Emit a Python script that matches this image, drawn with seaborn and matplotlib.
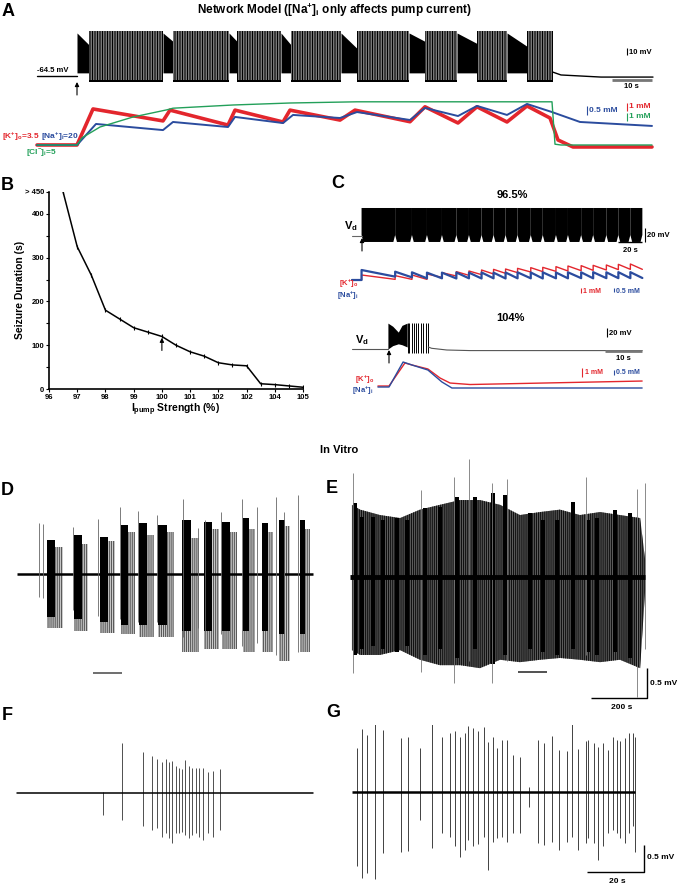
import numpy as np
import matplotlib
matplotlib.use('Agg')
import matplotlib.pyplot as plt
import seaborn as sns

# ---------------- values ----------------
# A: network model, membrane potential (s, mV)
a_tonic_start = [10, 31.5, 48, 61, 76, 93, 105, 117.5]
a_clonic_start = [13, 34, 50, 63.5, 80, 97, 110, 122.5]
a_clonic_end = [31.5, 48, 61, 76, 93, 105, 117.5, 129]
a_tonic_top_end = [-20, -15, -15, -20, -25, -15, -18, -22]
a_tonic_top_start = -3
a_tonic_floor = -60
a_spike_peak = 0
a_spike_trough = -73
a_pre_t = [0, 10]
a_pre_v = [-64.5, -64.5]
a_post_t = [129, 131, 141, 154]
a_post_v = [-59, -63, -66, -66]

# A: ion concentrations (s, mM)
a_k_t = [0, 10, 14, 31.5, 33.25, 47.75, 49.5, 61.5, 63.25, 75.75, 79.5, 93.25, 97,
         105.25, 110, 117.5, 122.5, 128.25, 130.25, 134, 153.75]
a_k = [3.5, 3.5, 7.84, 6.4, 7.7, 5.9, 7.7, 6.27, 7.7, 6.5, 7.7, 6.3, 8.1,
       6.15, 8.1, 6.27, 8.2, 6.75, 4.1, 3.26, 3.26]
a_na_t = [0, 10, 14.75, 31.5, 34, 47.75, 49.5, 61.5, 64, 75.75, 80, 93.25, 97,
          105.25, 110, 117.5, 122.5, 128.75, 135.75, 153.75]
a_na = [20, 20, 21.17, 20.83, 21.28, 21.0, 21.56, 21.22, 21.67, 21.5, 21.83, 21.39, 22.06,
        21.61, 22.17, 21.67, 22.28, 21.83, 21.28, 21.06]
a_cl_t = [0, 10, 11.25, 15.75, 24, 32.5, 34, 49, 63.25, 80, 128.75, 129.5, 131, 153.75]
a_cl = [5, 5, 5.9, 7.25, 8.5, 9.4, 9.6, 10, 10.25, 10.4, 10.4, 5.1, 5, 5]

# B: seizure duration vs pump strength
b_pump = [96.5, 97, 97.5, 98, 98.5, 99, 99.5, 100, 100.5, 101, 101.5, 102, 102.5,
          103, 103.5, 104, 104.5, 105]
b_duration = [450, 325, 260, 180, 160, 140, 130, 120, 100, 85, 75, 60, 55, 53, 12, 10, 7, 4]
b_xticks = [96, 97, 98, 99, 100, 101, 102, 103, 104, 105]
b_xticklabels = ['96', '97', '98', '99', '100', '101', '102', '102', '104', '105']
b_yticks = [0, 100, 200, 300, 400, 450]
b_yticklabels = ['0', '100', '200', '300', '400', '> 450']

# C (96.5%): cycle boundaries (s), block envelope (mV), sawtooth peaks/troughs (mM)
c1_cycles = [8, 36, 50, 62.5, 75, 87, 97.5, 108, 118, 128, 138, 149, 159, 170, 180,
             191, 201, 212, 222, 232, 242]
c1_block_top = -24.5
c1_block_bottom = -73
c1_notch_v = -63
c1_k_peak = [4.5, 4.37, 4.5, 4.7, 4.97, 5.17, 5.3, 5.5, 5.63, 5.7, 5.83, 5.97, 6.03,
             6.17, 6.3, 6.37, 6.43, 6.5, 6.63, 6.7]
c1_k_trough = [3.63, 3.63, 3.63, 4.03, 4.3, 4.43, 4.57, 4.7, 4.83, 4.97, 5.1, 5.17, 5.23,
               5.3, 5.37, 5.43, 5.5, 5.57, 5.63, 5.63]
c1_na_peak = [21.25, 21.04, 20.96, 20.92, 20.92, 20.94, 20.92, 20.94, 20.92, 20.94, 20.96,
              20.94, 20.96, 20.94, 20.96, 20.96, 20.98, 20.96, 20.98, 20.98]
c1_na_trough = [20.42, 20.33, 20.21, 20.21, 20.19, 20.21, 20.19, 20.21, 20.19, 20.21, 20.21,
                20.19, 20.21, 20.21, 20.23, 20.21, 20.23, 20.23, 20.23, 20.25]

# C (104%)
c2_tonic_t = [9.7, 11, 12.5, 13.5, 14.9]
c2_tonic_top = [-7, -14, -27, -12, -7]
c2_tonic_bottom = [-64.5, -57, -53, -55, -60]
c2_spike_t = [15, 15.5, 16.1, 16.8, 17.3, 17.9, 18.6, 19.3, 20, 20.6]
c2_spike_peak = -7
c2_spike_trough = -73
c2_pre_t = [0, 9.7]
c2_pre_v = [-64.5, -64.5]
c2_post_t = [20.6, 21.5, 25.6, 31.9, 78.4]
c2_post_v = [-60, -62.9, -66.7, -68, -68]
c2_k_t = [7, 10, 14.3, 16.2, 20.5, 23.8, 26.5, 31.9, 78.4]
c2_k = [3.5, 3.5, 6.27, 6.03, 5.55, 4.46, 3.86, 3.68, 4.1]
c2_na_t = [7, 10, 13.8, 16.2, 20.5, 24.3, 27, 78.4]
c2_na = [20, 20, 22.5, 22.2, 21.7, 20.5, 19.9, 19.9]

# D: in vitro bursts (s, mV)
d_end = 1057
d_core_start = [107, 204, 296, 371, 436, 504, 589, 668, 732, 807, 875, 936, 1011]
d_core_end = [136, 232, 325, 396, 464, 536, 621, 696, 761, 829, 896, 957, 1029]
d_core_top = [0.57, 0.65, 0.62, 0.82, 0.85, 0.82, 0.9, 0.87, 0.87, 0.93, 0.85, 0.9, 0.9]
d_core_bottom = [-0.72, -0.75, -0.8, -0.85, -0.85, -0.85, -0.95, -0.95, -0.95, -0.95, -0.95, -1.0, -1.0]
d_tail_end = [165, 255, 350, 420, 490, 560, 650, 720, 785, 850, 915, 975, 1045]
d_tail_top = [0.45, 0.5, 0.55, 0.7, 0.65, 0.7, 0.6, 0.75, 0.7, 0.75, 0.7, 0.8, 0.75]
d_tail_bottom = [-0.9, -0.95, -0.98, -1.0, -1.05, -1.05, -1.3, -1.25, -1.25, -1.3, -1.3, -1.45, -1.3]
d_spike_t = [79, 93, 200, 289, 368, 432, 500, 593, 646, 671, 729, 804, 857, 925, 954, 1004]
d_spike_top = [0.85, 0.83, 0.78, 0.92, 1.12, 1.05, 0.98, 1.25, 0.77, 0.9, 1.03, 1.25, 1.12, 1.28, 1.03, 1.32]
d_spike_bottom = [-0.38, -0.4, -0.6, -0.7, -0.75, -0.8, -0.8, -1.05, -0.9, -0.95, -1.0, -1.2, -1.15,
                  -1.35, -1.2, -1.3]

# E: in vitro, dense activity (s, mV)
e_end = 1054
e_env_t = [7, 36, 107, 179, 250, 321, 393, 464, 536, 607, 679, 750, 821, 893, 964, 1036, 1054]
e_env_top = [1.2, 1.12, 1.03, 0.98, 1.12, 1.2, 1.28, 1.28, 1.2, 1.03, 1.08, 1.12, 1.03, 1.08, 1.03, 0.98, 0.28]
e_env_bottom = [-1.22, -1.3, -1.3, -1.22, -1.38, -1.47, -1.47, -1.52, -1.38, -1.42, -1.38, -1.35,
                -1.38, -1.42, -1.38, -1.52, -0.22]
e_col_t = [18, 43, 82, 118, 168, 204, 268, 321, 382, 446, 511, 554, 643, 689, 739, 796, 850, 882, 946, 1000]
e_col_top = [1.23, 1.0, 1.0, 0.95, 0.98, 0.95, 1.15, 1.17, 1.33, 1.33, 1.4, 1.37, 1.07, 0.95, 0.95,
             1.25, 0.95, 0.98, 1.12, 1.07]
e_col_bottom = [-1.3, -1.2, -1.15, -1.2, -1.25, -1.15, -1.3, -1.2, -1.35, -1.2, -1.45, -1.3, -1.2,
                -1.25, -1.3, -1.2, -1.25, -1.3, -1.25, -1.35]
e_spike_t = [11, 254, 371, 425, 507, 561, 843, 1025, 1054]
e_spike_top = [1.73, 1.45, 1.67, 1.97, 1.57, 1.63, 1.67, 1.47, 1.57]
e_spike_bottom = [-1.6, -1.58, -1.77, -1.4, -1.77, -1.4, -1.3, -2.0, -1.2]

# F: in vitro single event (s, mV)
f_end = 104
f_spike_t = [30.3, 36.7, 44.3, 47.3, 49.2, 51, 52.3, 53.4, 54.5, 55.7, 56.7, 57.8, 58.9, 60.2,
             61.5, 62.7, 64, 65.2, 67.1, 68.9, 71.2]
f_spike_top = [0.02, 0.92, 0.76, 0.69, 0.62, 0.58, 0.62, 0.57, 0.6, 0.5, 0.46, 0.44, 0.61, 0.5,
               0.47, 0.47, 0.46, 0.46, 0.39, 0.41, 0.44]
f_spike_bottom = [-0.41, -0.5, -0.62, -0.69, -0.65, -0.81, -0.75, -0.84, -0.93, -0.75, -0.75, -0.72,
                  -0.78, -0.84, -0.78, -0.75, -0.81, -0.87, -0.75, -0.81, -0.69]

# G: in vitro interictal spikes (s, mV)
g_end = 99.3
g_spike_t = [1.64, 3.39, 5.15, 8.07, 11, 17.1, 19.8, 23.9, 28, 31.5, 34.4, 36.1, 37.9, 39.6, 40.8,
             42.6, 44.3, 46.3, 47.6, 49.6, 50.8, 52.5, 54.3, 56.4, 58.9, 62.2, 65.4, 67.4, 70.3,
             72.7, 75.3, 77.3, 79.4, 82, 82.9, 84.9, 86.4, 88.2, 89.9, 91.5, 92.9, 94, 95.8, 97.3,
             98.4, 99.3]
g_spike_top = [0.81, 1.16, 1.06, 1.3, 1.15, 0.99, 1.02, 0.82, 1.25, 1.02, 1.1, 1.12, 1.02, 1.1, 1.22,
               1.19, 1.12, 1.2, 0.93, 1.01, 0.81, 0.96, 0.96, 0.69, 0.65, 0.1, 0.96, 0.9, 1.04,
               0.78, 0.75, 1.27, 0.79, 0.94, 0.96, 0.9, 0.84, 0.9, 0.78, 1.02, 0.96, 0.94, 0.99,
               1.09, 1.1, 1.02]
g_spike_bottom = [-1.38, -1.6, -1.51, -1.62, -1.14, -1.12, -1.1, -0.52, -1.04, -0.77, -0.83, -1.01,
                  -1.2, -1.07, -0.89, -1.01, -0.96, -0.83, -1.44, -0.92, -0.86, -0.83, -0.92, -0.77,
                  -0.77, -0.27, -0.95, -0.98, -0.92, -1.07, -0.92, -0.83, -1.07, -0.94, -0.86, -0.95,
                  -1.27, -1.01, -0.77, -0.7, -0.77, -0.86, -0.95, -0.77, -0.64, -1.12]

# ---------------- style ----------------
sns.set_theme(style='white')
plt.rcParams['font.family'] = ['Liberation Sans', 'DejaVu Sans']
plt.rcParams['font.weight'] = 'bold'
plt.rcParams['mathtext.fontset'] = 'custom'
plt.rcParams['mathtext.rm'] = 'Liberation Sans:bold'
plt.rcParams['mathtext.it'] = 'Liberation Sans:bold'
plt.rcParams['mathtext.bf'] = 'Liberation Sans:bold'
plt.rcParams['mathtext.default'] = 'rm'
plt.rcParams['hatch.linewidth'] = 0.8

RED, BLUE, GREEN = '#e3262d', '#2b4c9e', '#23a05a'
W, H = 681, 888
fig = plt.figure(figsize=(W / 100, H / 100), dpi=100)
limits = []


def box(x0, y0, x1, y1, xlim, ylim):
    ax = fig.add_axes([x0 / W, 1 - y1 / H, (x1 - x0) / W, (y1 - y0) / H])
    ax.axis('off')
    ax.patch.set_alpha(0)
    limits.append((ax, xlim, ylim))
    return ax


def line(ax, x, y, color, lw):
    sns.lineplot(x=x, y=y, ax=ax, color=color, lw=lw, estimator=None, sort=False)


# ---------- A ----------
axA = box(0, 20, 681, 95, (-9.25, 161), (-91.6, 15.5))
axA.plot(a_pre_t, a_pre_v, color='black', lw=1)
for ts, cs, ce, te in zip(a_tonic_start, a_clonic_start, a_clonic_end, a_tonic_top_end):
    axA.fill_between([ts, cs], [a_tonic_top_start, te], [a_tonic_floor, a_tonic_floor], color='black', lw=0)
    axA.fill_between([cs, ce], [a_spike_peak] * 2, [a_spike_trough] * 2, facecolor='#d8d8d8',
                     edgecolor='black', hatch='||||||||||', lw=0)
    axA.fill_between([cs, ce], [a_spike_trough + 3] * 2, [a_spike_trough] * 2, color='black', lw=0)
axA.plot(a_post_t, a_post_v, color='black', lw=1)

axK = box(0, 98, 681, 160, (-9.25, 161), (1.69, 9.16))
axNa = box(0, 98, 681, 160, (-9.25, 161), (19.17, 22.61))
axCl = box(0, 98, 681, 160, (-9.25, 161), (3.125, 10.875))
line(axCl, a_cl_t, a_cl, GREEN, 1.0)
line(axK, a_k_t, a_k, RED, 2.6)
line(axNa, a_na_t, a_na, BLUE, 1.4)

# ---------- B ----------
axB = fig.add_axes([49 / W, 1 - 389 / H, (303 - 49) / W, (389 - 192) / H])
sns.lineplot(x=b_pump, y=b_duration, ax=axB, color='black', lw=1.1, marker='|',
             markersize=3, markeredgewidth=0.8, markeredgecolor='black', estimator=None, sort=False)
axB.set_xlim(96, 105)
axB.set_ylim(0, 450)
for side in ['top', 'right']:
    axB.spines[side].set_visible(False)
for side in ['left', 'bottom']:
    axB.spines[side].set_color('black')
    axB.spines[side].set_linewidth(1.2)
axB.set_xticks(b_xticks)
axB.set_xticklabels(b_xticklabels)
axB.set_yticks(b_yticks)
axB.set_yticklabels(b_yticklabels)
axB.set_yticks([50, 150, 250, 350], minor=True)
axB.tick_params(axis='both', which='both', direction='out', length=2, width=0.8, labelsize=5.5,
                pad=1.5, left=True, bottom=True, colors='black')
axB.set_xlabel('')
axB.set_ylabel('')
axB.patch.set_alpha(0)
axB.annotate('', xy=(100, 117), xytext=(100, 88),
             arrowprops=dict(arrowstyle='-|>', color='black', lw=0.8, mutation_scale=6, shrinkA=0, shrinkB=0))

# ---------- C top (96.5%) ----------
axC1 = box(330, 200, 681, 255, (-18.3, 274.2), (-91.6, -13.1))
axC1.plot([0, c1_cycles[0]], [-64.5, -64.5], color='#666666', lw=0.8)
notch = 1.5
for a, b in zip(c1_cycles[:-1], c1_cycles[1:]):
    axC1.fill([a, b, b, b - notch, a + notch, a],
              [c1_block_top, c1_block_top, c1_notch_v, c1_block_bottom, c1_block_bottom, c1_notch_v],
              color='black', lw=0)

axC1K = box(330, 255, 681, 300, (-18.3, 274.2), (-0.5, 8.5))
axC1Na = box(330, 255, 681, 300, (-18.3, 274.2), (17.5, 23.125))


def sawtooth(bounds, base, peaks, troughs):
    xs, ys = [0], [base]
    prev = base
    for a, p, tr in zip(bounds[:-1], peaks, troughs):
        xs += [a, a]
        ys += [prev, p]
        prev = tr
    xs.append(bounds[-1])
    ys.append(prev)
    return xs, ys


kx, ky = sawtooth(c1_cycles, 3.5, c1_k_peak, c1_k_trough)
nx, ny = sawtooth(c1_cycles, 20, c1_na_peak, c1_na_trough)
line(axC1K, kx, ky, RED, 1.0)
line(axC1Na, nx, ny, BLUE, 1.6)

# ---------- C bottom (104%) ----------
axC2 = box(330, 315, 681, 365, (-5.95, 88.9), (-100, 11))
axC2.plot(c2_pre_t, c2_pre_v, color='#555555', lw=0.8)
axC2.fill_between(c2_tonic_t, c2_tonic_top, c2_tonic_bottom, color='black', lw=0)
axC2.vlines(c2_spike_t, c2_spike_trough, c2_spike_peak, color='black', lw=0.7)
axC2.plot(c2_post_t, c2_post_v, color='#555555', lw=0.8)

axC2K = box(330, 355, 681, 395, (-5.95, 88.9), (2.42, 7.23))
axC2Na = box(330, 355, 681, 395, (-5.95, 88.9), (19.2, 23.2))
line(axC2K, c2_k_t, c2_k, RED, 1.0)
line(axC2Na, c2_na_t, c2_na, BLUE, 1.0)

# ---------- D ----------
axD = box(0, 455, 340, 715, (-60.7, 1153.6), (-2.35, 1.98))
for s, e, tt, tb in zip(d_core_start, d_tail_end, d_tail_top, d_tail_bottom):
    axD.fill_between([s, e], [tt, tt], [tb, tb], facecolor='#d0d0d0', edgecolor='#5a5a5a',
                     hatch='||||||||', lw=0)
axD.plot([0, d_end], [0, 0], color='black', lw=1.8, solid_capstyle='butt')
for s, e, tt, tb in zip(d_core_start, d_core_end, d_core_top, d_core_bottom):
    axD.fill_between([s, e], [tt, tt], [tb, tb], color='black', lw=0)
axD.vlines(d_spike_t, d_spike_bottom, d_spike_top, color='#666666', lw=0.6)

# ---------- E ----------
axE = box(340, 455, 681, 715, (-35.7, 1182), (-2.3, 2.03))
axE.fill_between(e_env_t, e_env_top, e_env_bottom, facecolor='#5e5e5e', edgecolor='#111111',
                 hatch='||||||||', lw=0)
axE.bar(e_col_t, np.array(e_col_top) - np.array(e_col_bottom), bottom=e_col_bottom,
        width=16, color='black', lw=0)
axE.vlines(e_spike_t, e_spike_bottom, e_spike_top, color='#777777', lw=0.6)
axE.plot([0, e_end], [0, 0], color='black', lw=3.5, solid_capstyle='butt')

# ---------- F ----------
axF = box(0, 725, 340, 850, (-6, 113.3), (-1.06, 1.26))
axF.vlines(f_spike_t, f_spike_bottom, f_spike_top, color='#333333', lw=0.6)
axF.plot([0, f_end], [0, 0], color='black', lw=1.1)

# ---------- G ----------
axG = box(340, 725, 681, 888, (-4.2, 115.4), (-1.78, 1.24))
axG.vlines(g_spike_t, g_spike_bottom, g_spike_top, color='#333333', lw=0.65)
axG.plot([0, g_end], [0, 0], color='black', lw=1.8, solid_capstyle='butt')

for ax, xl, yl in limits:
    ax.set_xlim(xl)
    ax.set_ylim(yl)

# ---------- overlay: text, scale bars, arrows (pixel coordinates) ----------
ov = fig.add_axes([0, 0, 1, 1], zorder=10)
ov.set_xlim(0, W)
ov.set_ylim(H, 0)
ov.axis('off')
ov.patch.set_alpha(0)


def txt(x, y, s, size=5.5, color='black', ha='center', **kw):
    ov.text(x, y, s, fontsize=size, color=color, ha=ha, va='center', fontweight='bold', **kw)


def bar(xs, ys, color='black', lw=0.8):
    ov.plot(xs, ys, color=color, lw=lw, solid_capstyle='butt')


def arrow(x, y0, y1):
    ov.annotate('', xy=(x, y1), xytext=(x, y0),
                arrowprops=dict(arrowstyle='-|>', color='black', lw=0.8, mutation_scale=6,
                                shrinkA=0, shrinkB=0))


# panel letters and headings
for letter, x, y in [('A', 8, 12), ('B', 7, 185), ('C', 338, 184), ('D', 7, 490), ('E', 332, 488),
                     ('F', 7, 715), ('G', 333, 712)]:
    txt(x, y, letter, size=13)
txt(334, 10, r'Network Model ([Na$^{+}$]$_{i}$ only affects pump current)', size=8.5)
txt(339, 450, 'In Vitro', size=8)

# A annotations
txt(37, 71, '-64.5 mV', size=5.5, ha='left')
arrow(77, 95, 82)
bar([627, 627], [48, 55])
txt(629, 52, '10 mV', ha='left')
bar([612, 652], [80, 80], color='#777777', lw=2)
txt(631, 87, '10 s')
txt(39, 137, r'[K$^{+}$]$_{o}$=3.5', size=6, color=RED, ha='right')
txt(41, 137, r'[Na$^{+}$]$_{i}$=20', size=6, color=BLUE, ha='left')
txt(26, 154, r'[Cl$^{-}$]$_{i}$=5', size=6, color=GREEN, ha='left')
bar([587, 587], [106, 115], color=BLUE)
txt(589, 111, '0.5 mM', size=6, color=BLUE, ha='left')
bar([627, 627], [103, 111], color=RED)
txt(629, 107, '1 mM', size=6, color=RED, ha='left')
bar([627, 627], [113, 121], color=GREEN)
txt(629, 117, '1 mM', size=6, color=GREEN, ha='left')

# B labels
txt(20, 290, 'Seizure Duration (s)', size=7.5, rotation=90)
txt(176, 410, r'I$_{pump}$ Strength (%)', size=7.5)

# C annotations
txt(512, 195, '96.5%', size=8)
txt(351, 226, r'V$_{d}$', size=8)
arrow(362, 251, 238)
bar([645, 645], [228, 242])
txt(647, 235, '20 mV', ha='left')
bar([618, 642], [242, 242], lw=1)
txt(630, 250, '20 s')
txt(349, 284, r'[K$^{+}$]$_{o}$', color=RED)
txt(348, 296, r'[Na$^{+}$]$_{i}$', color=BLUE)
bar([581, 581], [288, 293], color=RED)
txt(583, 291, '1 mM', size=5, color=RED, ha='left')
bar([614, 614], [288, 292], color=BLUE)
txt(616, 291, '0.5 mM', size=5, color=BLUE, ha='left')

txt(510, 318, '104%', size=8)
txt(362, 340, r'V$_{d}$', size=8)
arrow(389, 363, 350)
bar([607, 607], [328, 337])
txt(609, 333, '20 mV', ha='left')
bar([605, 642], [351, 351], color='#777777', lw=2)
txt(623, 358, '10 s')
txt(365, 380, r'[K$^{+}$]$_{o}$', color=RED)
txt(363, 391, r'[Na$^{+}$]$_{i}$', color=BLUE)
bar([582, 582], [368, 377], color=RED)
txt(585, 372, '1 mM', size=5, color=RED, ha='left')
bar([614, 614], [370, 375], color=BLUE)
txt(616, 372, '0.5 mM', size=5, color=BLUE, ha='left')

# D / E scale bars
bar([93, 122], [673, 673], color='#555555', lw=1.2)
bar([518, 547], [672, 672], color='#333333', lw=1.2)
bar([647, 647, 591], [668, 698, 698], lw=1)
txt(650, 683, '0.5 mV', size=6, ha='left')
txt(622, 707, '200 s', size=6)

# G scale bar
bar([644, 644, 587], [845, 872, 872], lw=1)
txt(647, 857, '0.5 mV', size=6, ha='left')
txt(617, 881, '20 s', size=6)

fig.savefig('out.png', dpi=100)
